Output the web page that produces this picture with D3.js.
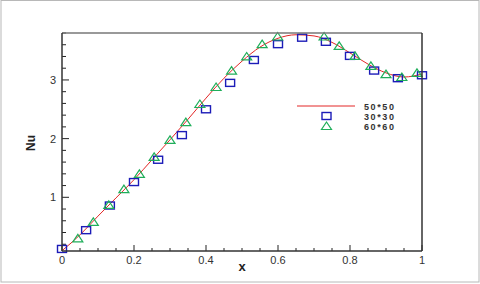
<!DOCTYPE html>
<html>
<head>
<meta charset="utf-8">
<script src="https://cdn.jsdelivr.net/npm/d3@7"></script>
<style>
  html, body { margin: 0; padding: 0; background: #fff; }
  svg { display: block; font-family: "Liberation Sans", Arial, sans-serif; }
</style>
</head>
<body>
<svg id="chart" width="480" height="284"></svg>
<script>
// 50*50 solution (red line)
const lineX = [0, 0.05, 0.1, 0.15, 0.2, 0.25, 0.3, 0.35, 0.4, 0.45, 0.5, 0.55, 0.6, 0.65, 0.7, 0.75, 0.8, 0.85, 0.9, 0.95, 1.0];
const lineNu = [0.09, 0.36, 0.68, 0.99, 1.3, 1.64, 1.98, 2.33, 2.69, 3.03, 3.32, 3.56, 3.71, 3.77, 3.75, 3.64, 3.46, 3.27, 3.12, 3.05, 3.1];

// 30*30 solution (blue squares)
const squareX = [0, 0.067, 0.133, 0.2, 0.267, 0.333, 0.4, 0.467, 0.533, 0.6, 0.667, 0.733, 0.8, 0.867, 0.933, 1.0];
const squareNu = [0.12, 0.44, 0.86, 1.26, 1.64, 2.06, 2.5, 2.95, 3.34, 3.61, 3.72, 3.65, 3.41, 3.16, 3.03, 3.08];

// 60*60 solution (green triangles)
const triX = [0.044, 0.087, 0.13, 0.172, 0.215, 0.256, 0.3, 0.344, 0.383, 0.428, 0.471, 0.513, 0.556, 0.599, 0.728, 0.77, 0.814, 0.858, 0.9, 0.944, 0.986];
const triNu = [0.3, 0.58, 0.87, 1.14, 1.4, 1.69, 1.98, 2.28, 2.59, 2.88, 3.16, 3.4, 3.61, 3.74, 3.74, 3.58, 3.41, 3.24, 3.1, 3.05, 3.12];

const xTicks = [0, 0.2, 0.4, 0.6, 0.8, 1];
const yTicks = [1, 2, 3];
const legendLabels = ['50*50', '30*30', '60*60'];

const red = '#e32626';
const blue = '#1c1cb8';
const green = '#1fae5a';

const svg = d3.select('#chart');
const plotL = 62, plotR = 422, plotT = 33, plotB = 251;

const x = d3.scaleLinear().domain([0, 1]).range([plotL, plotR]);
const y = d3.scaleLinear().domain([0.085, 3.8]).range([plotB, plotT]);

// outer page frame
svg.append('rect')
  .attr('x', 1).attr('y', 0.5).attr('width', 478).attr('height', 281.5)
  .attr('fill', 'none').attr('stroke', '#b8b8b8').attr('stroke-width', 1);

// ticks point inward
const minorX = d3.range(0, 1.0001, 0.05).filter((v) => Math.abs(v * 5 - Math.round(v * 5)) > 1e-6);
const minorY = d3.range(0.2, 3.8001, 0.2).filter((v) => Math.abs(v - Math.round(v)) > 1e-6);

const tickG = svg.append('g').attr('stroke', '#222').attr('stroke-width', 1);
tickG.selectAll('.xmaj').data(xTicks).join('line')
  .attr('x1', (d) => x(d)).attr('x2', (d) => x(d))
  .attr('y1', plotB).attr('y2', plotB - 6);
tickG.selectAll('.xmin').data(minorX).join('line')
  .attr('x1', (d) => x(d)).attr('x2', (d) => x(d))
  .attr('y1', plotB).attr('y2', plotB - 3);
tickG.selectAll('.ymaj').data(yTicks).join('line')
  .attr('x1', plotL).attr('x2', plotL + 7)
  .attr('y1', (d) => y(d)).attr('y2', (d) => y(d));
tickG.selectAll('.ymin').data(minorY).join('line')
  .attr('x1', plotL).attr('x2', plotL + 4)
  .attr('y1', (d) => y(d)).attr('y2', (d) => y(d));

// tick labels
svg.append('g').selectAll('text').data(xTicks).join('text')
  .attr('x', (d) => x(d)).attr('y', plotB + 13)
  .attr('text-anchor', 'middle')
  .attr('font-size', 11).attr('fill', '#333')
  .text((d) => d3.format('~g')(d));
svg.append('g').selectAll('text').data(yTicks).join('text')
  .attr('x', plotL - 6).attr('y', (d) => y(d) + 4)
  .attr('text-anchor', 'end')
  .attr('font-size', 11).attr('fill', '#333')
  .text((d) => d);

// axis titles
svg.append('text')
  .attr('x', x(0.5)).attr('y', 271)
  .attr('text-anchor', 'middle')
  .attr('font-size', 13).attr('font-weight', 'bold').attr('fill', '#222')
  .text('x');
svg.append('text')
  .attr('transform', `translate(35,${(plotT + plotB) / 2 + 1}) rotate(-90)`)
  .attr('text-anchor', 'middle')
  .attr('font-size', 12).attr('font-weight', 'bold').attr('fill', '#222')
  .text('Nu');

// data
const lineData = lineX.map((v, i) => [v, lineNu[i]]);
svg.append('path')
  .datum(lineData)
  .attr('fill', 'none')
  .attr('stroke', red)
  .attr('stroke-width', 1)
  .attr('d', d3.line().x((d) => x(d[0])).y((d) => y(d[1])).curve(d3.curveMonotoneX));

const triPath = (cx, cy) => `M${cx - 5},${cy + 3.5}L${cx + 5},${cy + 3.5}L${cx},${cy - 4}Z`;

svg.append('g').selectAll('rect').data(squareX.map((v, i) => [v, squareNu[i]])).join('rect')
  .attr('x', (d) => x(d[0]) - 4.5).attr('y', (d) => y(d[1]) - 3.5)
  .attr('width', 9).attr('height', 7)
  .attr('fill', 'none').attr('stroke', blue).attr('stroke-width', 1.4);

svg.append('g').selectAll('path').data(triX.map((v, i) => [v, triNu[i]])).join('path')
  .attr('d', (d) => triPath(x(d[0]), y(d[1])))
  .attr('fill', 'none').attr('stroke', green).attr('stroke-width', 1.2);

// frame
svg.append('line').attr('x1', plotL).attr('x2', plotR).attr('y1', plotT).attr('y2', plotT)
  .attr('stroke', '#777').attr('stroke-width', 1.5);
svg.append('line').attr('x1', plotR).attr('x2', plotR).attr('y1', plotT).attr('y2', plotB)
  .attr('stroke', '#333').attr('stroke-width', 1.5);
svg.append('line').attr('x1', plotL).attr('x2', plotL).attr('y1', plotT).attr('y2', plotB)
  .attr('stroke', '#333').attr('stroke-width', 1.5);
svg.append('line').attr('x1', plotL).attr('x2', plotR).attr('y1', plotB).attr('y2', plotB)
  .attr('stroke', '#333').attr('stroke-width', 1.5);

// legend
const legend = svg.append('g');
const rowY = [106, 116, 126];
legend.append('line').attr('x1', 297).attr('x2', 355).attr('y1', rowY[0]).attr('y2', rowY[0])
  .attr('stroke', red).attr('stroke-width', 1);
legend.append('rect').attr('x', 322).attr('y', rowY[1] - 3.5).attr('width', 9).attr('height', 7)
  .attr('fill', 'none').attr('stroke', blue).attr('stroke-width', 1.4);
legend.append('path').attr('d', triPath(326.5, rowY[2]))
  .attr('fill', 'none').attr('stroke', green).attr('stroke-width', 1.2);
legend.selectAll('text').data(legendLabels).join('text')
  .attr('x', 364).attr('y', (d, i) => rowY[i] + 3.5)
  .attr('font-size', 9).attr('font-weight', 'bold').attr('letter-spacing', 1.6)
  .attr('fill', '#333')
  .text((d) => d);
</script>
</body>
</html>
